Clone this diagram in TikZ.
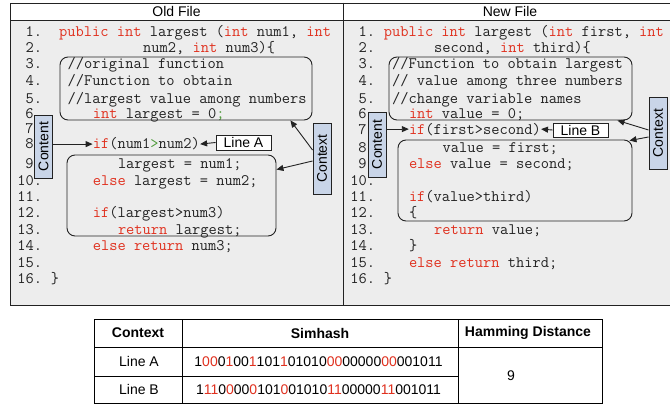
\documentclass[tikz,border=0pt]{standalone}
\usepackage{fontspec}
\setmainfont{Liberation Sans}
\usetikzlibrary{arrows.meta,calc}
\definecolor{kw}{HTML}{E0301E}
\definecolor{gr}{HTML}{4E9A3A}
\definecolor{panel}{HTML}{EDEDED}
\definecolor{tagfill}{HTML}{C9D5E8}
\definecolor{txt}{HTML}{222222}
\newcommand\kw[1]{\textcolor{kw}{#1}}
\newcommand\gn[1]{\textcolor{gr}{#1}}
\newcommand\rd[1]{\textcolor{kw}{#1}}
\newcommand\codefnt{\ttfamily\fontsize{16}{16}\selectfont\frenchspacing}
\newcommand\sansfnt{\fontsize{14}{14}\selectfont}
\begin{document}
\begin{tikzpicture}[x=1pt,y=-1pt,
  code/.style={font=\codefnt, anchor=base west, inner sep=0pt, text=txt},
  num/.style={font=\codefnt, anchor=base east, inner sep=0pt, text=txt},
  rbox/.style={draw=txt, line width=0.9pt, rounded corners=8pt, inner sep=0pt},
  tag/.style={draw=txt, line width=0.9pt, fill=tagfill, inner sep=0pt, rotate=90, font=\sansfnt, minimum height=18pt},
  linebox/.style={draw=txt, line width=0.9pt, fill=white, inner sep=0pt, font=\sansfnt, minimum width=55pt, minimum height=15pt},
  arr/.style={-{Triangle[length=7pt,width=6pt]}, line width=0.9pt, draw=txt},
  cell/.style={font=\sansfnt, inner sep=0pt},
  hcell/.style={font=\sansfnt\bfseries, inner sep=0pt},
  tline/.style={line width=0.9pt, draw=black}]
\useasboundingbox (0,0) rectangle (670,404);
\clip (0,0) rectangle (670,404);
\fill[white] (0,0) rectangle (670,404);
% panels
\fill[panel] (10,3) rectangle (680,305);
\draw[line width=0.9pt, draw=txt] (10,3) rectangle (680,305);
\draw[line width=0.9pt, draw=txt] (343,3) -- (343,305);
\fill[white] (10,3) rectangle (680,20);
\draw[line width=0.9pt, draw=txt] (10,3) rectangle (680,20);
\draw[line width=0.9pt, draw=txt] (343,3) -- (343,20);
\node[font=\sansfnt, inner sep=0pt] (hold) at (176.5,11.5) {Old File};
\node[font=\sansfnt, inner sep=0pt] (hnew) at (510,11.5) {New File};

% ---------------- Old file ----------------
\node[num] (on1) at (42.2,37) {1.};
\node[num] (on2) at (42.2,53) {2.};
\node[num] (on3) at (42.2,69) {3.};
\node[num] (on4) at (42.2,86) {4.};
\node[num] (on5) at (42.2,103) {5.};
\node[num] (on6) at (33.8,118) {6};
\node[num] (on7) at (33.8,133) {7};
\node[num] (on8) at (33.8,149) {8};
\node[num] (on9) at (33.8,168) {9};
\node[num] (on10) at (42.2,185) {10.};
\node[num] (on11) at (42.2,201) {11.};
\node[num] (on12) at (42.2,217) {12.};
\node[num] (on13) at (42.2,234) {13.};
\node[num] (on14) at (42.2,250) {14.};
\node[num] (on15) at (42.2,267) {15.};
\node[num] (on16) at (42.2,283) {16.};

\node[code] (o1) at (59,37) {\kw{public} \kw{int} largest (\kw{int} num1, \kw{int}};
\node[code] (o2) at (143,53) {num2, \kw{int} num3)\{};
\node[code] (o3) at (67.4,69) {//original function};
\node[code] (o4) at (67.4,86) {//Function to obtain};
\node[code] (o5) at (67.4,103) {//largest value among numbers};
\node[code] (o6) at (92.6,118) {\kw{int} largest = 0\gn{;}};
\node[code] (o8) at (92.6,149) {\kw{if}(num1\gn{>}num2)};
\node[code] (o9) at (117.8,168) {largest = num1;};
\node[code] (o10) at (92.6,185) {\kw{else} largest = num2;};
\node[code] (o12) at (92.6,217) {\kw{if}(largest>num3)};
\node[code] (o13) at (117.8,234) {\kw{return} largest;};
\node[code] (o14) at (92.6,250) {\kw{else} \kw{return} num3;};
\node[code] (o16) at (50.6,283) {\}};

\node[rbox, minimum width=252pt, minimum height=63pt] (ocom) at (186,88.5) {};
\node[rbox, minimum width=209pt, minimum height=81pt] (obody) at (171.5,195.5) {};
\node[tag, minimum width=63pt] (ocont) at (43.5,146.5) {Content};
\node[tag, minimum width=71pt] (octx) at (322,158.5) {Context};
\node[linebox] (lineA) at (243.5,142.5) {Line A};

\draw[arr] (ocont.south |- o8.west) -- (o8.west);
\draw[arr] (lineA.west) -- (o8.east);
\draw[arr] ([yshift=8.5pt]octx.north) -- ([xshift=-22pt]ocom.south east);
\draw[arr] ([yshift=-2.5pt]octx.north) -- ([yshift=-15pt]obody.north east);

% ---------------- New file ----------------
\node[num] (nn1) at (375.2,37) {1.};
\node[num] (nn2) at (375.2,53) {2.};
\node[num] (nn3) at (375.2,69) {3.};
\node[num] (nn4) at (375.2,86) {4.};
\node[num] (nn5) at (375.2,103) {5.};
\node[num] (nn6) at (366.8,118) {6};
\node[num] (nn7) at (366.8,134) {7};
\node[num] (nn8) at (366.8,152) {8};
\node[num] (nn9) at (366.8,168) {9};
\node[num] (nn10) at (375.2,185) {10.};
\node[num] (nn11) at (375.2,201) {11.};
\node[num] (nn12) at (375.2,217) {12.};
\node[num] (nn13) at (375.2,234) {13.};
\node[num] (nn14) at (375.2,250) {14.};
\node[num] (nn15) at (375.2,267) {15.};
\node[num] (nn16) at (375.2,283) {16.};

\node[code] (n1) at (383.6,37) {\kw{public} \kw{int} largest (\kw{int} first, \kw{int}};
\node[code] (n2) at (434,53) {second, \kw{int} third)\{};
\node[code] (n3) at (392,69) {//Function to obtain largest};
\node[code] (n4) at (392,86) {// value among three numbers};
\node[code] (n5) at (392,103) {//change variable names};
\node[code] (n6) at (408.8,118) {\kw{int} value = 0;};
\node[code] (n7) at (408.8,134) {\kw{if}(first>second)};
\node[code] (n8) at (442.4,152) {value = first;};
\node[code] (n9) at (408.8,168) {\kw{else} value = second;};
\node[code] (n11) at (408.8,201) {\kw{if}(value>third)};
\node[code] (n12) at (408.8,217) {\{};
\node[code] (n13) at (434,234) {\kw{return} value;};
\node[code] (n14) at (408.8,250) {\}};
\node[code] (n15) at (408.8,267) {\kw{else} \kw{return} third;};
\node[code] (n16) at (383.6,283) {\}};

\node[rbox, minimum width=243pt, minimum height=63pt] (ncom) at (510.5,88.5) {};
\node[rbox, minimum width=234pt, minimum height=81pt] (nbody) at (515,180.5) {};
\node[tag, minimum width=65pt] (ncont) at (377,144.5) {Content};
\node[tag, minimum width=72pt] (nctx) at (658,133) {Context};
\node[linebox, minimum height=14pt] (lineB) at (580.5,130) {Line B};

\draw[arr] (ncont.south |- n7.west) -- (n7.west);
\draw[arr] (lineB.west) -- (n7.east);
\draw[arr] ([yshift=3pt]nctx.north) -- ([xshift=-15pt]ncom.south east);
\draw[arr] ([yshift=-4pt]nctx.north) -- ([xshift=-3pt,yshift=-1pt]nbody.north east);

% ---------------- Table ----------------
\draw[tline] (94,319) rectangle (602,403);
\draw[tline] (94,347) -- (602,347);
\draw[tline] (94,376) -- (458,376);
\draw[tline] (182,319) -- (182,403);
\draw[tline] (458,319) -- (458,403);
\node[hcell] (thc) at (138,333) {Context};
\node[hcell] (ths) at (320,333) {Simhash};
\node[hcell] (thh) at (528,333) {Hamming Distance};
\node[cell] (tla) at (139,361.5) {Line A};
\node[cell] (tlb) at (139,389.5) {Line B};
\node[cell] (tsa) at (318.5,361.5) {1\rd{00}0\rd{1}00\rd{1}101\rd{1}01010\rd{00}00000\rd{00}001011};
\node[cell] (tsb) at (318.5,389.5) {1\rd{11}0\rd{0}00\rd{0}101\rd{0}01010\rd{11}00000\rd{11}001011};
\node[cell] (thd) at (511,375.5) {9};
\end{tikzpicture}
\end{document}
